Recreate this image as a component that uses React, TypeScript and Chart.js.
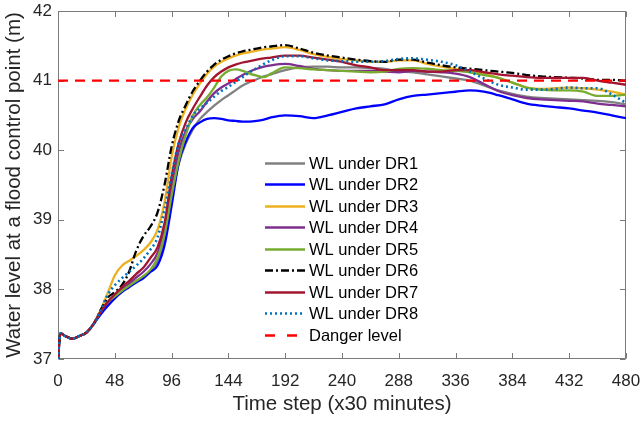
import React, { useEffect, useRef } from 'react';
import { Chart, registerables } from 'chart.js';

Chart.register(...registerables);

// ---------- data ----------
const timeSteps = [
  0, 2, 6, 12, 18, 24, 30,
  36, 42, 48, 54, 60, 66, 72, 78, 84, 90, 96, 102, 108, 114, 120, 126, 132, 138, 144, 150, 156, 162, 168, 174, 180,
  192, 204, 216, 228, 240, 252, 264, 276, 288, 300, 312, 324, 336, 348, 360, 372, 384, 396, 408, 420, 432, 444, 456, 468, 480,
];

const startLevels = [37.0, 37.37, 37.33, 37.29, 37.33, 37.38, 37.5];

const wlDR1 = [
  ...startLevels,
  37.68, 37.8, 37.9, 37.98, 38.05, 38.12, 38.18, 38.26, 38.4, 38.72, 39.3, 39.8, 40.1, 40.3, 40.45, 40.55, 40.64, 40.72, 40.79, 40.86, 40.93, 40.98, 41.02, 41.06, 41.09,
  41.15, 41.19, 41.2, 41.2, 41.19, 41.19, 41.18, 41.17, 41.13, 41.12, 41.09, 41.06, 41.03, 41.0, 40.93, 40.86, 40.81, 40.77, 40.75, 40.74, 40.73, 40.72, 40.71, 40.69, 40.66,
];
const wlDR2 = [
  ...startLevels,
  37.64, 37.76, 37.87, 37.96, 38.03, 38.1, 38.16, 38.25, 38.34, 38.63, 39.2, 39.82, 40.12, 40.32, 40.4, 40.45, 40.46, 40.45, 40.43, 40.42, 40.41, 40.41, 40.42, 40.44, 40.47,
  40.5, 40.49, 40.46, 40.5, 40.55, 40.6, 40.63, 40.66, 40.73, 40.78, 40.8, 40.82, 40.84, 40.86, 40.84, 40.79, 40.73, 40.67, 40.64, 40.62, 40.6, 40.57, 40.54, 40.5, 40.46,
];
const wlDR3 = [
  ...startLevels,
  37.7, 37.95, 38.2, 38.34, 38.41, 38.48, 38.56, 38.67, 38.85, 39.25, 39.9, 40.33, 40.6, 40.8, 40.96, 41.1, 41.2, 41.27, 41.32, 41.36, 41.39, 41.41, 41.43, 41.45, 41.46,
  41.48, 41.44, 41.38, 41.34, 41.31, 41.29, 41.27, 41.27, 41.29, 41.29, 41.24, 41.2, 41.17, 41.14, 41.1, 41.04, 40.97, 40.9, 40.88, 40.89, 40.9, 40.89, 40.87, 40.84, 40.8,
];
const wlDR4 = [
  ...startLevels,
  37.68, 37.82, 37.91, 38.0, 38.08, 38.17, 38.25, 38.36, 38.52, 38.88, 39.48, 39.98, 40.28, 40.45, 40.56, 40.7, 40.82, 40.9, 40.96, 41.02, 41.08, 41.13, 41.17, 41.2, 41.22,
  41.24, 41.21, 41.17, 41.15, 41.14, 41.14, 41.14, 41.13, 41.12, 41.14, 41.13, 41.12, 41.1, 41.05, 40.95, 40.85, 40.79, 40.75, 40.73, 40.72, 40.71, 40.7, 40.67, 40.65, 40.63,
];
const wlDR5 = [
  ...startLevels,
  37.68, 37.82, 37.9, 37.98, 38.05, 38.12, 38.19, 38.28, 38.45, 38.78, 39.35, 39.85, 40.22, 40.5, 40.65, 40.76, 40.9, 41.06, 41.14, 41.16, 41.14, 41.1, 41.07, 41.05, 41.1,
  41.19, 41.18, 41.16, 41.15, 41.14, 41.13, 41.12, 41.13, 41.17, 41.18, 41.17, 41.15, 41.14, 41.12, 41.08, 41.04, 40.97, 40.9, 40.87, 40.86, 40.86, 40.84, 40.78, 40.78, 40.8,
];
const wlDR6 = [
  ...startLevels,
  37.7, 37.88, 37.96, 38.06, 38.25, 38.55, 38.76, 38.9, 39.1, 39.5, 40.05, 40.42, 40.65, 40.85, 41.0, 41.13, 41.23, 41.3, 41.35, 41.39, 41.42, 41.44, 41.46, 41.48, 41.49,
  41.51, 41.46, 41.4, 41.36, 41.33, 41.3, 41.28, 41.27, 41.3, 41.3, 41.26, 41.22, 41.19, 41.17, 41.15, 41.13, 41.11, 41.08, 41.06, 41.05, 41.04, 41.03, 41.01, 41.01, 41.0,
];
const wlDR7 = [
  ...startLevels,
  37.68, 37.82, 37.93, 38.03, 38.12, 38.22, 38.31, 38.45, 38.6, 38.95, 39.62, 40.1, 40.4, 40.6, 40.77, 40.93, 41.05, 41.13, 41.19, 41.23, 41.26, 41.28, 41.3, 41.32, 41.33,
  41.36, 41.36, 41.33, 41.3, 41.27, 41.22, 41.19, 41.15, 41.15, 41.15, 41.13, 41.13, 41.15, 41.15, 41.12, 41.09, 41.07, 41.05, 41.04, 41.04, 41.04, 41.04, 41.0, 40.97, 40.94,
];
const wlDR8 = [
  ...startLevels,
  37.7, 37.92, 38.06, 38.16, 38.25, 38.34, 38.44, 38.57, 38.74, 39.15, 39.65, 40.1, 40.3, 40.5, 40.6, 40.68, 40.77, 40.85, 40.91, 40.98, 41.05, 41.12, 41.18, 41.24, 41.29,
  41.35, 41.35, 41.32, 41.29, 41.28, 41.27, 41.27, 41.28, 41.31, 41.32, 41.3, 41.27, 41.22, 41.13, 41.03, 40.94, 40.9, 40.87, 40.87, 40.88, 40.9, 40.89, 40.89, 40.8, 40.68,
];

const dangerTimes = [0, 480];
const dangerLevel = [41, 41];

const seriesLabels = [
  'WL under DR1', 'WL under DR2', 'WL under DR3', 'WL under DR4',
  'WL under DR5', 'WL under DR6', 'WL under DR7', 'WL under DR8',
];
const dangerLabel = 'Danger level';

const xTickValues = [0, 48, 96, 144, 192, 240, 288, 336, 384, 432, 480];
const yTickValues = [37, 38, 39, 40, 41, 42];

const xTitle = 'Time step (x30 minutes)';
const yTitle = 'Water level at a flood control point (m)';

// ---------- styles ----------
const FONT = "'Liberation Sans', Arial, Helvetica, sans-serif";
const AXIS_COLOR = '#7a7a7a';
const TEXT_COLOR = '#262626';

const seriesStyles = [
  { color: '#808080', dash: [] as number[], width: 2.3 },
  { color: '#0000FF', dash: [], width: 2.3 },
  { color: '#EDB120', dash: [], width: 2.3 },
  { color: '#7E2F8E', dash: [], width: 2.3 },
  { color: '#77AC30', dash: [], width: 2.3 },
  { color: '#000000', dash: [8, 3, 2, 3], width: 2.3 },
  { color: '#A2142F', dash: [], width: 2.3 },
  { color: '#0072BD', dash: [2, 3], width: 2.6 },
];
const dangerStyle = { color: '#FF0000', dash: [10, 7], width: 2.4 };
const dangerLegendDash = [10, 12];

const toPoints = (xs: number[], ys: number[]) => xs.map((x, i) => ({ x, y: ys[i] }));

const frameAndLegend = {
  id: 'frameAndLegend',
  beforeDatasetsDraw(chart: any) {
    const { ctx, chartArea: a, scales } = chart;
    const L = Math.round(a.left) + 0.5;
    const R = Math.round(a.right) - 0.5;
    const T = Math.round(a.top) + 0.5;
    const B = Math.round(a.bottom) - 0.5;
    ctx.save();
    ctx.strokeStyle = AXIS_COLOR;
    ctx.lineWidth = 1;
    ctx.strokeRect(L, T, R - L, B - T);
    const tl = 5.5;
    ctx.beginPath();
    scales.x.ticks.forEach((t: any) => {
      const px = Math.round(scales.x.getPixelForValue(t.value)) + 0.5;
      ctx.moveTo(px, B); ctx.lineTo(px, B - tl);
      ctx.moveTo(px, T); ctx.lineTo(px, T + tl);
    });
    scales.y.ticks.forEach((t: any) => {
      const py = Math.round(scales.y.getPixelForValue(t.value)) + 0.5;
      ctx.moveTo(L, py); ctx.lineTo(L + tl, py);
      ctx.moveTo(R, py); ctx.lineTo(R - tl, py);
    });
    ctx.stroke();
    ctx.restore();
  },
  afterDraw(chart: any) {
    const { ctx } = chart;
    const x0 = 265, x1 = 305, tx = 309, y0 = 162.5, dy = 21.5;
    ctx.save();
    ctx.font = `16.5px ${FONT}`;
    ctx.textBaseline = 'middle';
    ctx.textAlign = 'left';
    const n = chart.data.datasets.length;
    chart.data.datasets.forEach((ds: any, i: number) => {
      const y = Math.round(y0 + i * dy) + 0.5;
      ctx.strokeStyle = ds.borderColor;
      ctx.lineWidth = ds.borderWidth;
      ctx.setLineDash(i === n - 1 ? dangerLegendDash : ds.borderDash || []);
      ctx.beginPath();
      ctx.moveTo(x0, y);
      ctx.lineTo(x1, y);
      ctx.stroke();
      ctx.setLineDash([]);
      ctx.fillStyle = '#000000';
      ctx.fillText(ds.label, tx, y + 0.5);
    });
    ctx.restore();
  },
};

export default function App() {
  const ref = useRef<HTMLCanvasElement | null>(null);

  useEffect(() => {
    document.body.style.margin = '0';
    const canvas = ref.current;
    if (!canvas) return;

    const datasets: any[] = [wlDR1, wlDR2, wlDR3, wlDR4, wlDR5, wlDR6, wlDR7, wlDR8].map((vals, i) => ({
      label: seriesLabels[i],
      data: toPoints(timeSteps, vals),
      borderColor: seriesStyles[i].color,
      backgroundColor: seriesStyles[i].color,
      borderDash: seriesStyles[i].dash,
      borderWidth: seriesStyles[i].width,
      pointRadius: 0,
      cubicInterpolationMode: 'monotone',
      fill: false,
      order: 9 - i,
    }));
    datasets.push({
      label: dangerLabel,
      data: toPoints(dangerTimes, dangerLevel),
      borderColor: dangerStyle.color,
      backgroundColor: dangerStyle.color,
      borderDash: dangerStyle.dash,
      borderWidth: dangerStyle.width,
      pointRadius: 0,
      fill: false,
      order: 0,
    });

    const chart = new Chart(canvas, {
      type: 'line',
      data: { datasets },
      options: {
        animation: false,
        responsive: false,
        devicePixelRatio: 1,
        layout: { padding: { top: 11, right: 15, left: 0, bottom: 0 } },
        plugins: { legend: { display: false }, tooltip: { enabled: false } },
        scales: {
          x: {
            type: 'linear',
            min: 0,
            max: 480,
            afterBuildTicks: (s: any) => { s.ticks = xTickValues.map((v) => ({ value: v })); },
            ticks: {
              autoSkip: false,
              maxRotation: 0,
              padding: 12,
              color: TEXT_COLOR,
              font: { family: FONT, size: 17 },
            },
            grid: { display: false, drawTicks: false },
            border: { display: false },
            title: {
              display: true,
              text: xTitle,
              color: TEXT_COLOR,
              font: { family: FONT, size: 20.5 },
              padding: { top: 0, bottom: 4 },
            },
            afterFit: (s: any) => {
              s.height = 62;
              s.paddingLeft = 0;
              s.paddingRight = 0;
            },
          },
          y: {
            type: 'linear',
            min: 37,
            max: 42,
            afterBuildTicks: (s: any) => { s.ticks = yTickValues.map((v) => ({ value: v })); },
            ticks: {
              padding: 6,
              color: TEXT_COLOR,
              font: { family: FONT, size: 17 },
            },
            grid: { display: false, drawTicks: false },
            border: { display: false },
            title: {
              display: true,
              text: yTitle,
              color: TEXT_COLOR,
              font: { family: FONT, size: 20.5 },
              padding: { top: 2, bottom: 0 },
            },
            afterFit: (s: any) => {
              s.width = 58;
              s.paddingTop = 0;
              s.paddingBottom = 0;
            },
          },
        },
      },
      plugins: [frameAndLegend],
    } as any);

    return () => chart.destroy();
  }, []);

  return (
    <div style={{ width: 641, height: 421, position: 'relative' }}>
      <canvas ref={ref} width={641} height={421} />
    </div>
  );
}
